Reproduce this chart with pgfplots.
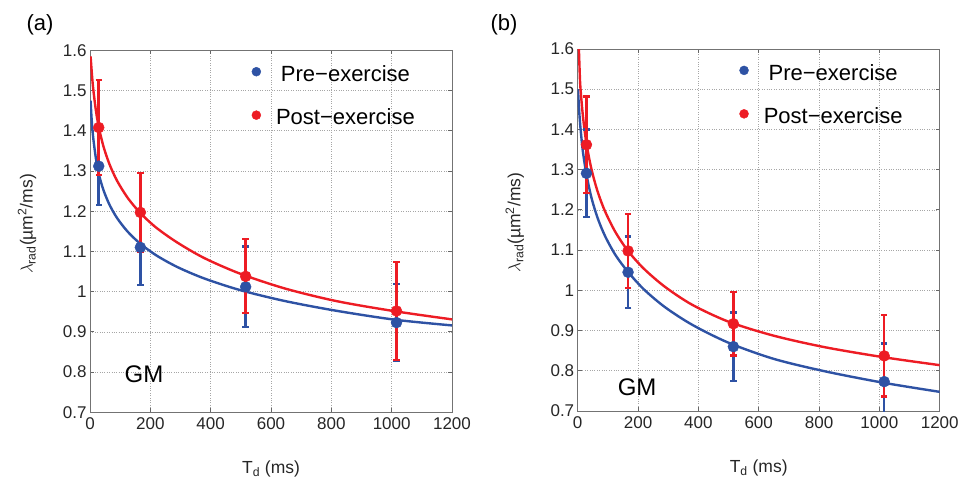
\documentclass[border=0pt]{standalone}
\usepackage{fontspec}
\setmainfont{Liberation Sans}
\usepackage{pgfplots}
\usepackage{pgfplotstable}
\pgfplotsset{compat=1.18}
\definecolor{pblue}{RGB}{46,82,164}
\definecolor{pred}{RGB}{237,28,36}

% fitted curves
\pgfplotstableread{
x y
2 1.475
5 1.4335
10 1.387
20 1.329
30 1.290
45 1.2517
65 1.2155
90 1.1827
125 1.1490
167 1.1190
220 1.0901
290 1.0610
380 1.0324
500 1.0033
650 0.9760
820 0.9520
1013 0.9300
1200 0.9160
}\curvePreA
\pgfplotstableread{
x y
2 1.585
5 1.554
10 1.509
20 1.448
30 1.406
45 1.360
65 1.316
90 1.2753
125 1.2331
167 1.1953
220 1.1588
290 1.1218
380 1.0830
500 1.0440
650 1.0070
820 0.9760
1013 0.9510
1200 0.9310
}\curvePostA
\pgfplotstableread{
x y
1 1.500
4 1.457
8 1.414
15 1.359
20 1.330
29 1.288
45 1.232
65 1.182
90 1.136
125 1.088
167 1.0456
220 1.0020
290 0.9578
380 0.9142
500 0.8697
650 0.8296
820 0.7986
1013 0.7703
1200 0.7476
}\curvePreB
\pgfplotstableread{
x y
2 1.640
4 1.598
6 1.555
8 1.516
11 1.485
15 1.4506
20 1.415
29 1.365
45 1.3032
65 1.2481
90 1.1975
125 1.1449
167 1.0977
220 1.0533
290 1.0083
380 0.9639
500 0.9221
650 0.8872
820 0.8585
1013 0.8338
1200 0.8140
}\curvePostB

% measured points with error bars
\pgfplotstableread{
x y e
29 1.312 0.097
167 1.110 0.094
516 1.012 0.100
1016 0.923 0.096
}\dataPreA
\pgfplotstableread{
x y e
29 1.408 0.119
167 1.197 0.098
516 1.038 0.092
1016 0.952 0.121
}\dataPostA
\pgfplotstableread{
x y e
29 1.291 0.109
167 1.045 0.089
516 0.860 0.085
1016 0.773 0.095
}\dataPreB
\pgfplotstableread{
x y e
29 1.362 0.120
167 1.098 0.092
516 0.917 0.079
1016 0.837 0.101
}\dataPostB

\pgfplotsset{
  myaxis/.style={
    scale only axis, width=362bp, height=362bp,
    xmin=0, xmax=1200, ymin=0.7, ymax=1.6,
    xtick={0,200,400,600,800,1000,1200},
    ytick={0.7,0.8,0.9,1,1.1,1.2,1.3,1.4,1.5,1.6},
    grid=major,
    major grid style={black!35, dotted, line width=0.7bp},
    axis line style={black!55, line width=0.8bp},
    tick align=inside, major tick length=4bp,
    tick style={black!60, line width=0.8bp},
    /pgf/number format/assume math mode=true,
    /pgf/number format/1000 sep={},
    tick label style={font=\fontsize{17bp}{20bp}\selectfont, text=black!85},
    xticklabel style={yshift=-2bp},
    every axis x label/.style={at={(axis description cs:0.5,-0.17)}, anchor=base,
      font=\fontsize{17.5bp}{21bp}\selectfont, text=black!85},
    every axis y label/.style={at={(axis description cs:-0.174,0.52)}, rotate=90, anchor=center,
      font=\fontsize{17.5bp}{21bp}\selectfont, text=black!85},
    xlabel={T\textsubscript{d} (ms)},
    ylabel={$\lambda$\textsubscript{rad}(µm\textsuperscript{2}/ms)},
    legend style={draw=none, fill=none, at={(0.446,0.874)}, anchor=west,
      font=\fontsize{22bp}{26bp}\selectfont, row sep=22bp, inner sep=0pt,
      nodes={inner sep=2bp}, column sep=13bp},
    legend cell align=center,
    legend image code/.code={\path[draw=none,fill=none] (-4.5bp,-7.5bp) rectangle (4.5bp,7.5bp);
      \fill (0bp,2.5bp) circle (4.5bp);},
  },
  curve/.style={line width=2.4bp, smooth, no marks, forget plot},
  pts/.style={only marks, mark=*, mark size=5.5bp,
    error bars/.cd, y dir=both, y explicit,
    error bar style={line width=2.5bp},
    error mark options={rotate=90, line width=2.2bp, mark size=3.2bp}},
}

\begin{document}
\begin{tikzpicture}
\useasboundingbox (0,0) rectangle (971bp,491bp);
\begin{axis}[myaxis, at={(90bp,78.7bp)}, anchor=south west]
  \addplot[curve, pblue] table[x=x,y=y] {\curvePreA};
  \addplot[curve, pred] table[x=x,y=y] {\curvePostA};
  \addplot[pblue, pts] table[x=x,y=y,y error=e] {\dataPreA};
  \addlegendentry{Pre−exercise}
  \addplot[pred, pts] table[x=x,y=y,y error=e] {\dataPostA};
  \addlegendentry{Post−exercise}
  \node[font=\fontsize{24bp}{28bp}\selectfont] at (axis cs:179,0.7935) {GM};
\end{axis}
\begin{axis}[myaxis, at={(577.7bp,80bp)}, anchor=south west]
  \addplot[curve, pblue] table[x=x,y=y] {\curvePreB};
  \addplot[curve, pred] table[x=x,y=y] {\curvePostB};
  \addplot[pblue, pts] table[x=x,y=y,y error=e] {\dataPreB};
  \addlegendentry{Pre−exercise}
  \addplot[pred, pts] table[x=x,y=y,y error=e] {\dataPostB};
  \addlegendentry{Post−exercise}
  \node[font=\fontsize{24bp}{28bp}\selectfont] at (axis cs:197,0.760) {GM};
\end{axis}
\node[font=\fontsize{22bp}{26bp}\selectfont] at (40bp,466bp) {(a)};
\node[font=\fontsize{22bp}{26bp}\selectfont] at (504bp,466bp) {(b)};
\end{tikzpicture}
\end{document}
